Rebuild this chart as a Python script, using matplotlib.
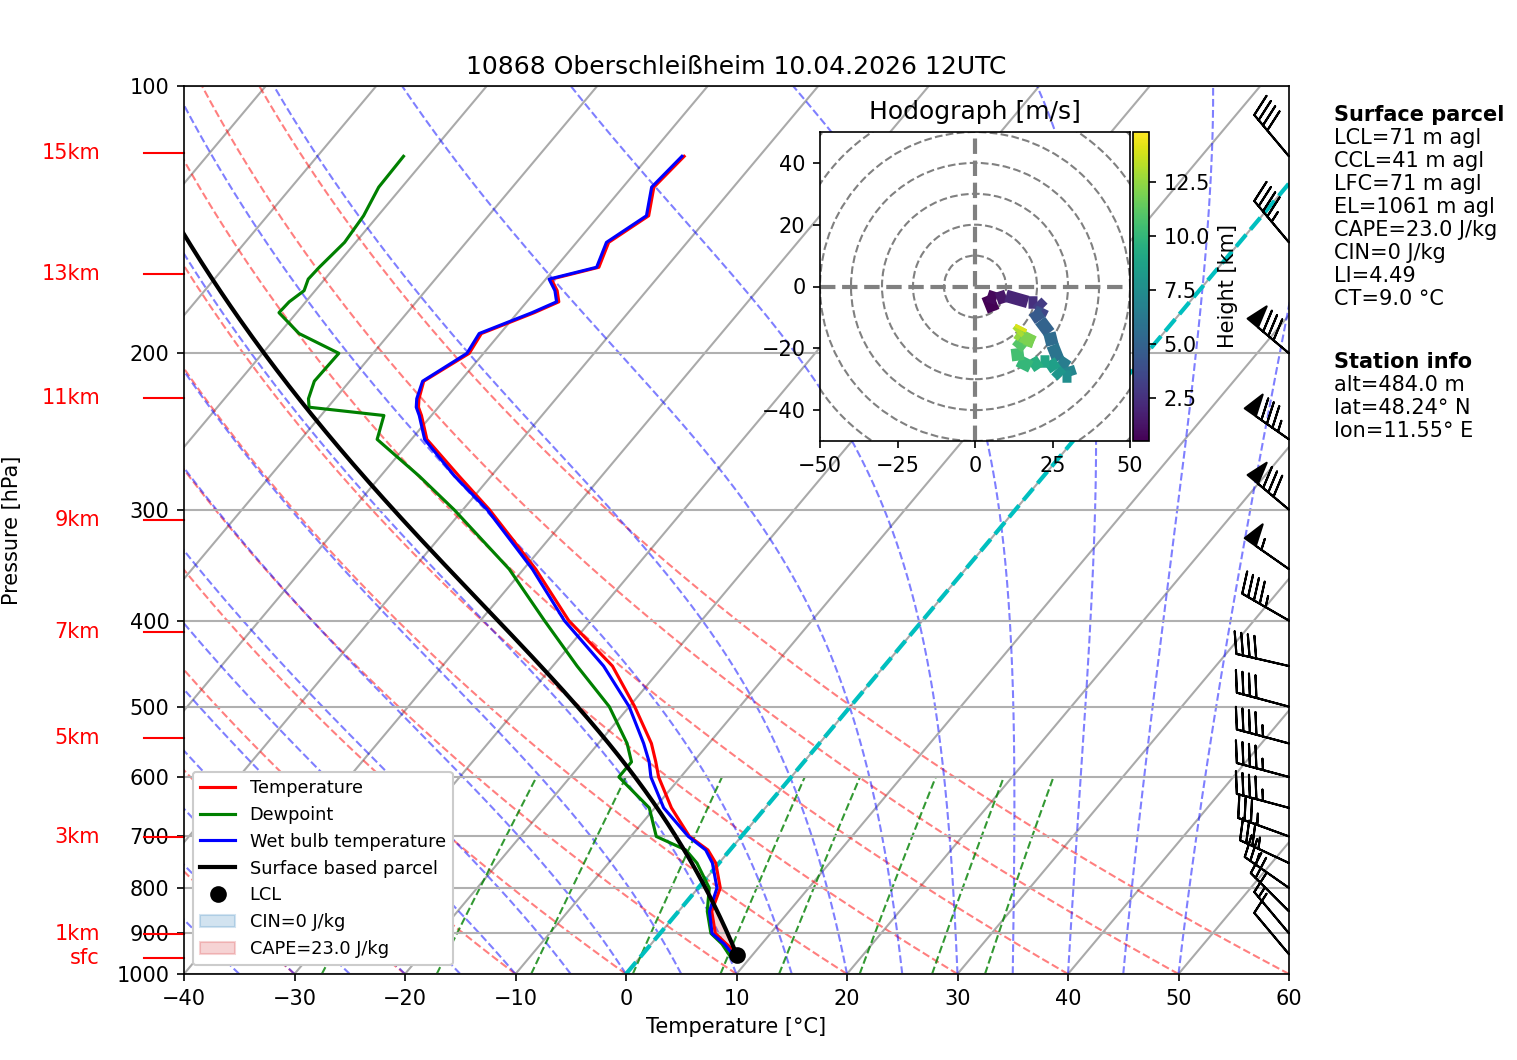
import numpy as np
import matplotlib
matplotlib.use('Agg')
import matplotlib.pyplot as plt
from matplotlib.collections import LineCollection
from matplotlib.patches import Patch
from matplotlib.lines import Line2D

# sounding (hPa, degC)
pres = [959, 925, 900, 850, 800, 750, 725, 700, 650, 600, 577, 550, 500, 450, 400, 350, 300, 275, 250,
        235, 230, 225, 215, 200, 190, 180, 175, 170, 165, 160, 150, 140, 130, 120]
temp = [9.3, 6.8, 5.0, 3.0, 2.0, -0.3, -2.0, -4.7, -8.5, -12.0, -13.4, -15.2, -19.5, -24.6, -32.0, -38.9,
        -47.6, -52.9, -58.6, -60.9, -61.8, -62.4, -63.3, -61.3, -61.7, -58.5, -57.1, -58.1, -59.5, -56.1,
        -57.1, -55.5, -57.2, -56.8]
dewp = [8.3, 6.4, 4.6, 2.6, 1.0, -2.0, -4.0, -7.7, -10.5, -15.6, -15.6, -17.4, -21.8, -27.8, -34.2, -41.3,
        -50.8, -56.5, -63.1, -64.3, -71.7, -72.4, -73.2, -73.1, -78.2, -81.6, -81.5, -81.0, -81.5, -81.4,
        -81.0, -81.3, -82.1, -82.2]
wetb = [8.7, 6.6, 4.7, 2.8, 1.7, -0.6, -2.2, -4.8, -9.2, -12.7, -14.0, -15.9, -20.0, -25.4, -32.4, -39.2,
        -47.8, -53.3, -58.8, -61.1, -62.0, -62.6, -63.4, -61.5, -61.9, -58.7, -57.3, -58.3, -59.7, -56.3,
        -57.3, -55.7, -57.4, -57.0]
lcl_p, lcl_t = 952.0, 8.6
el_p = 845.0

# wind barbs (hPa, deg, kt)
barb_p = [950, 900, 850, 800, 750, 700, 650, 600, 550, 500, 450, 400, 350, 300, 250, 200, 150, 120]
barb_dir = [320, 320, 315, 305, 295, 290, 285, 285, 285, 285, 283, 300, 305, 310, 305, 310, 320, 320]
barb_spd = [10, 15, 20, 25, 35, 35, 45, 45, 45, 40, 40, 45, 55, 80, 85, 80, 45, 40]

# hodograph (km, m/s)
hod_z = [0.3, 0.8, 1.3, 2.0, 2.5, 3.0, 3.5, 4.0, 4.5, 5.0, 5.5, 6.0, 6.5, 7.0, 7.5, 8.0, 8.5,
         9.0, 9.5, 10.0, 10.5, 11.0, 11.5, 12.0, 12.5, 13.0, 13.5, 14.0, 14.6]
hod_u = [6, 4, 7, 10, 17, 20, 22, 21, 19, 21, 24, 25, 27, 30, 31, 28, 26, 24, 21, 18, 14,
         13.5, 16, 19, 15, 13.5, 14.5, 15, 14.5]
hod_v = [-8, -3, -4, -3, -5, -5, -7, -9, -8, -11, -15, -19, -24, -26, -29, -29, -27, -24, -24,
         -26, -24, -20, -17, -18, -16, -15, -14, -13, -14]

height_p = [119, 163, 224.5, 308, 412, 542, 701, 901, 959]
height_lbl = ['15km', '13km', '11km', '9km', '7km', '5km', '3km', '1km', 'sfc']

SKEW = 67.4


def sx(t, p):
    return np.asarray(t) + SKEW * np.log10(1000.0 / np.asarray(p))


def esat(t):
    return 6.112 * np.exp(17.67 * t / (t + 243.5))


def moist_lapse(t0, p):
    Rd, Cp, Lv, eps = 287.04, 1005.7, 2.501e6, 0.622
    def f(pp, T):
        es = esat(T - 273.15)
        rs = eps * es / (pp - es)
        return (Rd * T + Lv * rs) / (Cp + Lv ** 2 * rs * eps / (Rd * T ** 2)) / pp
    T = np.asarray(t0, dtype=float) + 273.15
    out = [T.copy()]
    for i in range(len(p) - 1):
        h = p[i + 1] - p[i]
        k1 = f(p[i], T)
        k2 = f(p[i] + h / 2, T + h / 2 * k1)
        k3 = f(p[i] + h / 2, T + h / 2 * k2)
        k4 = f(p[i + 1], T + h * k3)
        T = T + h / 6 * (k1 + 2 * k2 + 2 * k3 + k4)
        out.append(T.copy())
    return np.array(out) - 273.15


fig = plt.figure(figsize=(1517 / 150, 1060 / 150), dpi=150)
ax = fig.add_axes([184 / 1517, 86 / 1060, 1105 / 1517, 888 / 1060])
ax.set_yscale('log')
ax.set_ylim(1000, 100)
ax.set_xlim(-40, 60)
ax.set_xticks(range(-40, 61, 10))
ax.yaxis.set_major_locator(matplotlib.ticker.FixedLocator(np.arange(100, 1001, 100)))
ax.yaxis.set_major_formatter(matplotlib.ticker.ScalarFormatter())
ax.yaxis.set_minor_locator(matplotlib.ticker.NullLocator())
ax.grid(True, axis='y', color='#b0b0b0', lw=1)

pp = np.linspace(1000, 100, 200)
for t in range(-120, 61, 10):
    ax.plot(sx(t, pp), pp, color='#aaaaaa', lw=1, zorder=1)
for t0 in range(-40, 61, 10):
    tt = (t0 + 273.15) * (pp / 1000.0) ** 0.2857 - 273.15
    ax.plot(sx(tt, pp), pp, color='red', alpha=0.5, lw=1, ls='--', zorder=1)
ma = moist_lapse(np.arange(-40, 51, 5), pp)
for i in range(ma.shape[1]):
    ax.plot(sx(ma[:, i], pp), pp, color='blue', alpha=0.5, lw=1, ls='--', zorder=1)
pw = np.linspace(1000, 600, 50)
for w in [0.0004, 0.001, 0.002, 0.004, 0.007, 0.01, 0.016, 0.024, 0.032]:
    e = pw * w / (0.622 + w)
    a = np.log(e / 6.112)
    td = 243.5 * a / (17.67 - a)
    ax.plot(sx(td, pw), pw, color='green', alpha=0.8, lw=1, ls='--', zorder=1)
ax.plot(sx(0, pp), pp, color='c', lw=2, ls='--', zorder=2)

# parcel
pd_ = np.linspace(pres[0], lcl_p, 5)
td_ = (temp[0] + 273.15) * (pd_ / pres[0]) ** 0.2857 - 273.15
pm = np.linspace(lcl_p, 100, 400)
tm = moist_lapse([lcl_t], pm)[:, 0]
par_p = np.concatenate([pd_, pm])
par_t = np.concatenate([td_, tm])

env_t = np.interp(np.log(par_p[::-1]), np.log(np.array(pres[::-1], float)), np.array(temp[::-1]))[::-1]
mask = (par_t > env_t) & (par_p >= el_p)
ax.fill_betweenx(par_p, sx(par_t, par_p), sx(env_t, par_p), where=mask, color='tab:red', alpha=0.2, lw=0)

ax.plot(sx(temp, pres), pres, color='red', lw=1.5, zorder=3)
ax.plot(sx(dewp, pres), pres, color='green', lw=1.5, zorder=3)
ax.plot(sx(wetb, pres), pres, color='blue', lw=1.5, zorder=3)
ax.plot(sx(par_t, par_p), par_p, color='black', lw=2, zorder=4)
ax.plot(sx(lcl_t, lcl_p), lcl_p, 'ko', ms=7, zorder=5)

bd = np.deg2rad(barb_dir)
bu = -np.array(barb_spd) * np.sin(bd)
bv = -np.array(barb_spd) * np.cos(bd)
ax.barbs(np.ones(len(barb_p)), barb_p, bu, bv, transform=ax.get_yaxis_transform(), clip_on=False,
         length=7.2, zorder=6)

for p, lbl in zip(height_p, height_lbl):
    ax.text(-0.076, p, lbl, color='red', ha='right', va='center', fontsize=10,
            transform=ax.get_yaxis_transform())
    ax.plot([-0.036, 0], [p, p], color='red', lw=1, transform=ax.get_yaxis_transform(), clip_on=False)

ax.set_xlabel('Temperature [°C]')
ax.set_ylabel('Pressure [hPa]')
ax.yaxis.set_label_coords(-0.147, 0.5)
ax.set_title('10868 Oberschleißheim 10.04.2026 12UTC', fontsize=12)

handles = [Line2D([], [], color='red', lw=1.5), Line2D([], [], color='green', lw=1.5),
           Line2D([], [], color='blue', lw=1.5), Line2D([], [], color='black', lw=2),
           Line2D([], [], color='black', marker='o', ls='', ms=7),
           Patch(color='tab:blue', alpha=0.2), Patch(color='tab:red', alpha=0.2)]
labels = ['Temperature', 'Dewpoint', 'Wet bulb temperature', 'Surface based parcel', 'LCL',
          'CIN=0 J/kg', 'CAPE=23.0 J/kg']
ax.legend(handles, labels, loc='lower left', fontsize=8.5, framealpha=1)

# hodograph
hx = fig.add_axes([820 / 1517, 619 / 1060, 310 / 1517, 309 / 1060])
for r in range(10, 80, 10):
    hx.add_patch(plt.Circle((0, 0), r, fill=False, ls='--', color='gray', lw=1))
hx.axhline(0, color='gray', ls='--', lw=2)
hx.axvline(0, color='gray', ls='--', lw=2)
pts = np.column_stack([hod_u, hod_v]).reshape(-1, 1, 2)
segs = np.concatenate([pts[:-1], pts[1:]], axis=1)
lc = LineCollection(segs, cmap='viridis', lw=6)
lc.set_array(np.array(hod_z[:-1]))
lc.set_clim(0.5, 14.8)
hx.add_collection(lc)
hx.set_xlim(-50, 50)
hx.set_ylim(-50, 50)
hx.set_xticks([-50, -25, 0, 25, 50])
hx.set_yticks([-40, -20, 0, 20, 40])
hx.set_title('Hodograph [m/s]', fontsize=12)
cx = fig.add_axes([1133 / 1517, 619 / 1060, 16 / 1517, 309 / 1060])
cb = fig.colorbar(lc, cax=cx)
cb.set_ticks([2.5, 5.0, 7.5, 10.0, 12.5])
cb.set_label('Height [km]')

lines1 = ['LCL=71 m agl', 'CCL=41 m agl', 'LFC=71 m agl', 'EL=1061 m agl', 'CAPE=23.0 J/kg',
          'CIN=0 J/kg', 'LI=4.49', 'CT=9.0 °C']
lines2 = ['alt=484.0 m', 'lat=48.24° N', 'lon=11.55° E']
y0 = 1 - 115 / 1060
fig.text(1334 / 1517, y0, 'Surface parcel', fontweight='bold', va='center')
for i, s in enumerate(lines1):
    fig.text(1334 / 1517, y0 - (i + 1) * 23 / 1060, s, va='center')
y1 = 1 - 362 / 1060
fig.text(1334 / 1517, y1, 'Station info', fontweight='bold', va='center')
for i, s in enumerate(lines2):
    fig.text(1334 / 1517, y1 - (i + 1) * 23 / 1060, s, va='center')

fig.savefig('out.png', dpi=150)
